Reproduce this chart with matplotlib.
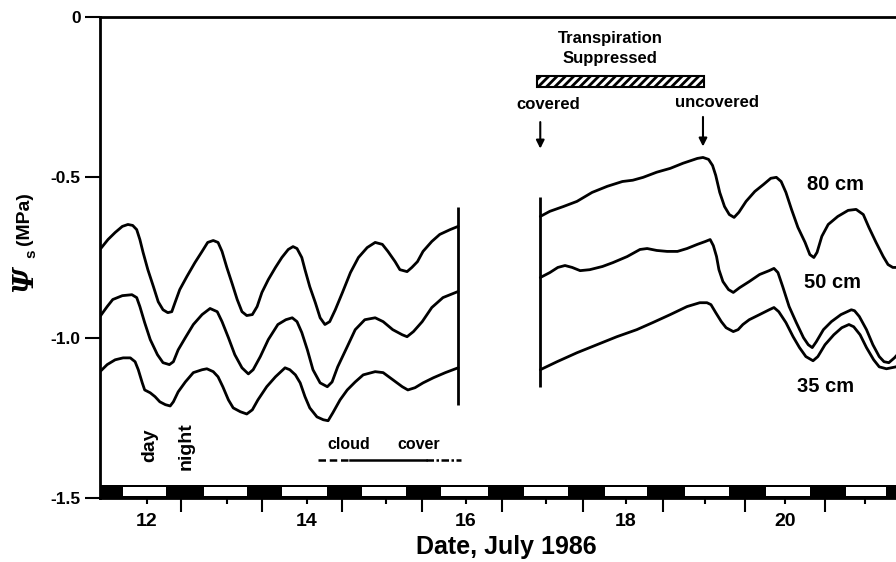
import matplotlib.pyplot as plt
from matplotlib.patches import Rectangle

plt.rcParams['font.family'] = ['Liberation Sans', 'DejaVu Sans']
plt.rcParams['font.weight'] = 'bold'
plt.rcParams['hatch.linewidth'] = 2.0

# --- values: date (day of July 1986) vs soil water potential (MPa) ---
# before the cover (12-16 July)
day_80_a = [11.41, 11.51, 11.60, 11.69, 11.76, 11.82, 11.87, 11.91, 11.95, 12.01, 12.08, 12.14,
            12.20, 12.26, 12.31, 12.35, 12.41, 12.50, 12.60, 12.69, 12.76, 12.83, 12.89, 12.94,
            13.00, 13.07, 13.13, 13.19, 13.25, 13.32, 13.38, 13.44, 13.52, 13.61, 13.69, 13.77,
            13.83, 13.88, 13.94, 13.98, 14.04, 14.11, 14.17, 14.23, 14.29, 14.36, 14.45, 14.55,
            14.65, 14.76, 14.86, 14.95, 15.02, 15.11, 15.17, 15.26, 15.32, 15.39, 15.46, 15.57,
            15.67, 15.80, 15.90]
psi_80_a = [-0.725, -0.694, -0.672, -0.653, -0.647, -0.650, -0.663, -0.694, -0.734, -0.788, -0.841,
            -0.888, -0.913, -0.922, -0.919, -0.891, -0.850, -0.809, -0.766, -0.731, -0.703, -0.697,
            -0.703, -0.731, -0.781, -0.834, -0.881, -0.919, -0.931, -0.928, -0.903, -0.859, -0.819,
            -0.781, -0.750, -0.725, -0.716, -0.722, -0.750, -0.788, -0.841, -0.891, -0.938, -0.959,
            -0.950, -0.913, -0.859, -0.797, -0.750, -0.719, -0.703, -0.709, -0.731, -0.763, -0.788,
            -0.794, -0.781, -0.763, -0.731, -0.700, -0.678, -0.663, -0.653]

day_50_a = [11.41, 11.50, 11.57, 11.69, 11.81, 11.87, 11.91, 11.97, 12.04, 12.13, 12.20, 12.28,
            12.33, 12.39, 12.48, 12.58, 12.69, 12.79, 12.88, 12.94, 13.02, 13.10, 13.19, 13.27,
            13.33, 13.42, 13.52, 13.64, 13.74, 13.82, 13.88, 13.94, 14.01, 14.08, 14.17, 14.26,
            14.32, 14.39, 14.51, 14.61, 14.73, 14.86, 14.96, 15.08, 15.20, 15.26, 15.34, 15.45,
            15.57, 15.71, 15.90]
psi_50_a = [-0.934, -0.903, -0.881, -0.869, -0.866, -0.875, -0.903, -0.953, -1.006, -1.053, -1.078,
            -1.084, -1.075, -1.038, -1.000, -0.959, -0.928, -0.909, -0.919, -0.950, -1.000, -1.053,
            -1.094, -1.113, -1.100, -1.059, -1.006, -0.959, -0.944, -0.938, -0.950, -0.984, -1.038,
            -1.100, -1.141, -1.153, -1.138, -1.091, -1.028, -0.975, -0.944, -0.938, -0.950, -0.975,
            -0.991, -0.997, -0.981, -0.950, -0.906, -0.875, -0.856]

day_35_a = [11.41, 11.50, 11.60, 11.70, 11.79, 11.85, 11.89, 11.94, 11.97, 12.04, 12.10, 12.16,
            12.23, 12.29, 12.33, 12.39, 12.48, 12.58, 12.69, 12.75, 12.83, 12.89, 12.95, 13.02,
            13.08, 13.17, 13.25, 13.32, 13.39, 13.50, 13.61, 13.73, 13.79, 13.86, 13.92, 13.98,
            14.04, 14.13, 14.21, 14.27, 14.33, 14.42, 14.51, 14.61, 14.71, 14.86, 14.96, 15.08,
            15.20, 15.27, 15.36, 15.46, 15.59, 15.74, 15.90]
psi_35_a = [-1.106, -1.084, -1.069, -1.063, -1.063, -1.075, -1.100, -1.141, -1.163, -1.172, -1.184,
            -1.200, -1.209, -1.213, -1.200, -1.169, -1.138, -1.109, -1.100, -1.097, -1.106, -1.122,
            -1.153, -1.194, -1.219, -1.231, -1.238, -1.225, -1.194, -1.153, -1.122, -1.094, -1.100,
            -1.116, -1.141, -1.184, -1.219, -1.247, -1.256, -1.259, -1.234, -1.194, -1.163, -1.138,
            -1.116, -1.106, -1.109, -1.131, -1.153, -1.163, -1.156, -1.141, -1.125, -1.109, -1.094]

# after the cover went on (17-21 July)
day_80_b = [16.93, 17.05, 17.22, 17.39, 17.58, 17.77, 17.96, 18.09, 18.22, 18.39, 18.56, 18.72,
            18.90, 18.97, 19.04, 19.09, 19.13, 19.18, 19.24, 19.30, 19.36, 19.42, 19.51, 19.62,
            19.73, 19.82, 19.89, 19.95, 20.01, 20.08, 20.16, 20.25, 20.31, 20.36, 20.40, 20.46,
            20.54, 20.66, 20.79, 20.89, 20.98, 21.05, 21.14, 21.23, 21.29, 21.35, 21.44]
psi_80_b = [-0.622, -0.606, -0.591, -0.575, -0.547, -0.528, -0.513, -0.509, -0.500, -0.484, -0.472,
            -0.456, -0.441, -0.438, -0.444, -0.463, -0.494, -0.547, -0.591, -0.616, -0.625, -0.609,
            -0.575, -0.544, -0.522, -0.503, -0.500, -0.513, -0.547, -0.600, -0.656, -0.703, -0.741,
            -0.750, -0.734, -0.684, -0.647, -0.622, -0.603, -0.600, -0.616, -0.656, -0.703, -0.747,
            -0.772, -0.781, -0.781]

day_50_b = [16.93, 17.05, 17.15, 17.24, 17.33, 17.43, 17.55, 17.71, 17.84, 18.02, 18.18, 18.27,
            18.39, 18.52, 18.65, 18.77, 18.90, 19.00, 19.06, 19.10, 19.14, 19.17, 19.22, 19.29,
            19.35, 19.43, 19.55, 19.68, 19.80, 19.86, 19.91, 19.97, 20.05, 20.14, 20.23, 20.29,
            20.34, 20.39, 20.48, 20.58, 20.70, 20.83, 20.87, 20.93, 21.02, 21.10, 21.18, 21.24,
            21.30, 21.37, 21.44]
psi_50_b = [-0.8125, -0.797, -0.781, -0.775, -0.781, -0.791, -0.788, -0.778, -0.766, -0.747, -0.725,
            -0.722, -0.728, -0.731, -0.731, -0.722, -0.709, -0.700, -0.694, -0.713, -0.747, -0.788,
            -0.825, -0.850, -0.859, -0.844, -0.825, -0.803, -0.791, -0.784, -0.797, -0.841, -0.903,
            -0.953, -1.000, -1.022, -1.031, -1.013, -0.975, -0.950, -0.928, -0.913, -0.916, -0.934,
            -0.975, -1.022, -1.059, -1.075, -1.078, -1.063, -1.044]

day_35_b = [16.93, 17.14, 17.39, 17.64, 17.89, 18.14, 18.34, 18.56, 18.77, 18.93, 19.02, 19.07,
            19.13, 19.20, 19.26, 19.35, 19.41, 19.47, 19.55, 19.68, 19.80, 19.86, 19.92, 20.01,
            20.10, 20.18, 20.26, 20.35, 20.41, 20.50, 20.61, 20.71, 20.80, 20.86, 20.94, 21.02,
            21.11, 21.18, 21.27, 21.33, 21.39, 21.44]
psi_35_b = [-1.100, -1.075, -1.047, -1.022, -0.997, -0.975, -0.953, -0.928, -0.903, -0.891, -0.891,
            -0.897, -0.922, -0.950, -0.969, -0.981, -0.975, -0.959, -0.944, -0.928, -0.913, -0.906,
            -0.919, -0.953, -0.997, -1.031, -1.059, -1.072, -1.059, -1.022, -0.991, -0.969, -0.959,
            -0.966, -0.991, -1.031, -1.069, -1.091, -1.097, -1.094, -1.091, -1.084]

# vertical bars closing/opening the two record segments
break_days = [15.90, 16.93]
break_top = [-0.591, -0.5625]
break_bottom = [-1.209, -1.153]

# night periods (black blocks on the date axis)
night_start = [11.26, 12.26, 13.27, 14.27, 15.27, 16.29, 17.30, 18.29, 19.32, 20.33, 21.28]
night_end = [11.68, 12.69, 13.67, 14.67, 15.67, 16.71, 17.72, 18.72, 19.74, 20.74, 21.70]

# date axis ticks
label_days = [12, 14, 16, 18, 20]
noon_ticks = [12, 13, 14, 15, 16, 17, 18, 19, 20, 21]
midnight_ticks = [12.42, 13.44, 14.45, 15.45, 16.45, 17.47, 18.47, 19.50, 20.50]
psi_ticks = [0, -0.5, -1.0, -1.5]
psi_labels = ['0', '-0.5', '-1.0', '-1.5']

# events
covered_day = 16.93
uncovered_day = 18.97
suppressed_start = 16.89
suppressed_end = 18.98
cloud_dash1 = [14.14, 14.55]
cloud_solid = [14.55, 15.50]
cloud_dash2 = [15.50, 15.93]
cloud_psi = -1.381

fig = plt.figure(figsize=(8.96, 5.62), dpi=100)
ax = fig.add_axes([100 / 896, 64 / 562, 796 / 896, 481 / 562])

lw = 2.0
for d, p in [(day_80_a, psi_80_a), (day_50_a, psi_50_a), (day_35_a, psi_35_a),
             (day_80_b, psi_80_b), (day_50_b, psi_50_b), (day_35_b, psi_35_b)]:
    ax.plot(d, p, color='black', lw=lw, solid_joinstyle='round', solid_capstyle='round')

ax.vlines(break_days, break_bottom, break_top, color='black', lw=lw)

# day / night bar along the bottom
ax.add_patch(Rectangle((11.0, -1.5), 11.0, 0.04, facecolor='black', edgecolor='none', zorder=3))
for i in range(len(night_end) - 1):
    ax.add_patch(Rectangle((night_end[i] + 0.02, -1.493), night_start[i + 1] - night_end[i] - 0.04,
                           0.026, facecolor='white', edgecolor='none', zorder=4))

# cloud cover marker
ax.plot(cloud_dash1, [cloud_psi] * 2, color='black', lw=1.8, ls=(0, (3, 1.5)))
ax.plot(cloud_solid, [cloud_psi] * 2, color='black', lw=1.8)
ax.plot(cloud_dash2, [cloud_psi] * 2, color='black', lw=1.8, ls=(0, (3, 1, 1, 1)))
ax.text(14.53, -1.334, 'cloud', ha='center', va='center', fontsize=11.5)
ax.text(15.40, -1.334, 'cover', ha='center', va='center', fontsize=11.5)

ax.text(12.03, -1.334, 'day', rotation=90, ha='center', va='center', fontsize=14)
ax.text(12.49, -1.338, 'night', rotation=90, ha='center', va='center', fontsize=14)

# transpiration suppressed
ax.add_patch(Rectangle((suppressed_start, -0.219), suppressed_end - suppressed_start, 0.035,
                       facecolor='white', edgecolor='black', lw=1.5, hatch='////'))
ax.text(17.81, -0.066, 'Transpiration', ha='center', va='center', fontsize=12)
ax.text(17.81, -0.128, 'Suppressed', ha='center', va='center', fontsize=12)

ax.text(17.03, -0.272, 'covered', ha='center', va='center', fontsize=12)
ax.text(19.15, -0.266, 'uncovered', ha='center', va='center', fontsize=12)
ax.annotate('', xy=(covered_day, -0.419), xytext=(covered_day, -0.319),
            arrowprops=dict(arrowstyle='-|>', color='black', lw=1.5, mutation_scale=12))
ax.annotate('', xy=(uncovered_day, -0.4125), xytext=(uncovered_day, -0.303),
            arrowprops=dict(arrowstyle='-|>', color='black', lw=1.5, mutation_scale=12))

ax.text(20.63, -0.522, '80 cm', ha='center', va='center', fontsize=14.5)
ax.text(20.59, -0.828, '50 cm', ha='center', va='center', fontsize=14.5)
ax.text(20.51, -1.153, '35 cm', ha='center', va='center', fontsize=14.5)

ax.set_xlim(11.41, 21.39)
ax.set_ylim(-1.5, 0)

ax.spines['right'].set_visible(False)
for s in ['left', 'top', 'bottom']:
    ax.spines[s].set_linewidth(2)

ax.set_yticks(psi_ticks)
ax.set_yticklabels(psi_labels, fontsize=12.5)
ax.tick_params(axis='y', length=11, width=1.5, pad=3)

ax.set_xticks(noon_ticks)
ax.set_xticklabels([str(d) if d in label_days else '' for d in noon_ticks], fontsize=14)
ax.set_xticks(midnight_ticks, minor=True)
ax.tick_params(axis='x', which='major', length=4, width=1.5, pad=7)
ax.tick_params(axis='x', which='minor', length=10, width=1.5)

fig.text(506 / 896, 1 - 547 / 562, 'Date, July 1986', ha='center', va='center',
         fontsize=18, fontweight='bold')

# y label: italic Psi, subscript s, (MPa)
fig.text(25 / 896, 1 - 279 / 562, '\u03a8', rotation=90, ha='center', va='center',
         fontsize=20, fontweight='bold', fontstyle='italic', family='DejaVu Serif')
fig.text(31 / 896, 1 - 254 / 562, 's', rotation=90, ha='center', va='center', fontsize=11)
fig.text(25 / 896, 1 - 219 / 562, '(MPa)', rotation=90, ha='center', va='center', fontsize=14)

fig.savefig('out.png', dpi=100)
